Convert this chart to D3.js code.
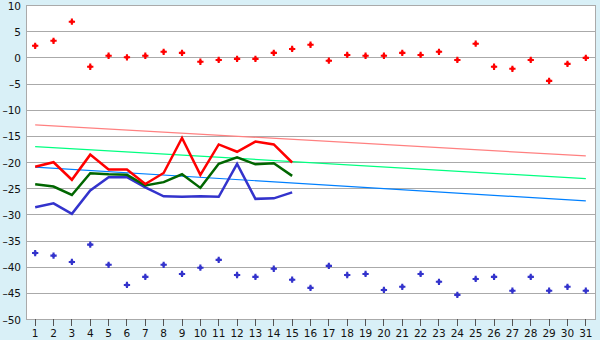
<!DOCTYPE html>
<html>
<head>
<meta charset="utf-8">
<script src="https://cdn.jsdelivr.net/npm/d3@7"></script>
<style>
  html, body { margin: 0; padding: 0; background: #d9f0f7; }
  svg { display: block; }
  text { font-family: "DejaVu Sans", Verdana, sans-serif; font-size: 10.5px; fill: #111; }
</style>
</head>
<body>
<svg id="chart" width="600" height="340"></svg>
<script>
const categories = ["1","2","3","4","5","6","7","8","9","10","11","12","13","14","15","16","17","18","19","20","21","22","23","24","25","26","27","28","29","30","31"];
const yTicks = [10, 5, 0, -5, -10, -15, -20, -25, -30, -35, -40, -45, -50];

const redPoints = [2.3, 3.25, 6.9, -1.7, 0.4, 0.1, 0.4, 1.15, 0.95, -0.75, -0.4, -0.2, -0.2, 0.95, 1.7, 2.5, -0.55, 0.55, 0.4, 0.4, 0.95, 0.55, 1.15, -0.4, 2.7, -1.7, -2.1, -0.4, -4.4, -1.15, 0];
const bluePoints = [-37.3, -37.8, -39.0, -35.7, -39.55, -43.4, -41.85, -39.55, -41.3, -40.1, -38.6, -41.5, -41.85, -40.3, -42.4, -43.95, -39.75, -41.5, -41.3, -44.35, -43.75, -41.3, -42.8, -45.3, -42.25, -41.85, -44.5, -41.85, -44.5, -43.75, -44.5];

const redLine = [-20.8, -19.95, -23.3, -18.5, -21.35, -21.35, -24.1, -22.0, -15.3, -22.35, -16.55, -17.95, -16.0, -16.55, -20.0];
const greenLine = [-24.15, -24.6, -26.2, -22.05, -22.25, -22.35, -24.4, -23.75, -22.25, -24.85, -20.25, -19.0, -20.35, -20.15, -22.55];
const blueLine = [-28.55, -27.8, -29.8, -25.35, -22.8, -22.8, -24.75, -26.45, -26.55, -26.45, -26.55, -20.25, -26.95, -26.85, -25.7];

// trend lines: values at first and last category
const trendCats = ["1", "31"];
const pinkTrend = [-12.8, -18.75];
const mintTrend = [-16.95, -23.1];
const azureTrend = [-20.9, -27.35];

const svg = d3.select("#chart");
const pLeft = 26, pRight = 595, pTop = 5.5, pBottom = 319.5;

const x = d3.scaleBand().domain(categories).range([pLeft, pRight]).paddingInner(0).paddingOuter(0);
const cx = c => x(c) + x.bandwidth() / 2;
const y = d3.scaleLinear().domain([-50, 10]).range([pBottom, pTop]);

// plot background
svg.append("rect").attr("x", pLeft).attr("y", pTop - 0.5).attr("width", pRight - pLeft).attr("height", pBottom - pTop + 0.5).attr("fill", "#ffffff");

// gridlines
svg.append("g").selectAll("line").data(yTicks).join("line")
  .attr("x1", pLeft).attr("x2", pRight)
  .attr("y1", d => Math.floor(y(d)) + 0.5).attr("y2", d => Math.floor(y(d)) + 0.5)
  .attr("stroke", "#aaaaaa").attr("stroke-width", 1).attr("shape-rendering", "crispEdges");

// left axis line and right border
svg.append("line").attr("x1", pLeft + 0.5).attr("x2", pLeft + 0.5).attr("y1", pTop - 0.5).attr("y2", pBottom + 0.5)
  .attr("stroke", "#aaaaaa").attr("shape-rendering", "crispEdges");
svg.append("line").attr("x1", pRight + 0.5).attr("x2", pRight + 0.5).attr("y1", pTop - 0.5).attr("y2", pBottom + 0.5)
  .attr("stroke", "#aaaaaa").attr("shape-rendering", "crispEdges");

// y labels
svg.append("g").selectAll("text").data(yTicks).join("text")
  .attr("x", 21).attr("y", d => y(d) + 4)
  .attr("text-anchor", "end")
  .text(d => d < 0 ? "\u2013" + Math.abs(d) : String(d));

// x axis
const xAxis = d3.axisBottom(x).tickSize(7).tickSizeOuter(0).tickPadding(4);
const gx = svg.append("g").attr("transform", `translate(0,${Math.floor(pBottom)})`).call(xAxis);
gx.select(".domain").remove();
gx.selectAll(".tick line").attr("stroke", "#555").attr("shape-rendering", "crispEdges");
gx.selectAll(".tick text").attr("font-size", 10.5).attr("font-family", "DejaVu Sans, Verdana, sans-serif").attr("fill", "#111");

// trend lines
const trendLine = d3.line().x((d, i) => cx(trendCats[i])).y(d => y(d));
[[pinkTrend, "#ff8080"], [mintTrend, "#00ff80"], [azureTrend, "#0080ff"]].forEach(([data, col]) => {
  svg.append("path").datum(data).attr("d", trendLine).attr("fill", "none")
    .attr("stroke", col).attr("stroke-width", 1.2);
});

// series lines
const seriesLine = d3.line().x((d, i) => cx(categories[i])).y(d => y(d));
[[blueLine, "#3333cc"], [greenLine, "#006600"], [redLine, "#ff0000"]].forEach(([data, col]) => {
  svg.append("path").datum(data).attr("d", seriesLine).attr("fill", "none")
    .attr("stroke", col).attr("stroke-width", 2.5).attr("stroke-linejoin", "miter");
});

// point markers (chunky plus: cross + small square)
const cross = d3.symbol().type(d3.symbolCross).size(22);
const square = d3.symbol().type(d3.symbolSquare).size(9);
[[redPoints, "#ff0000"], [bluePoints, "#3333cc"]].forEach(([data, col]) => {
  const g = svg.append("g").selectAll("g").data(data).join("g")
    .attr("transform", (d, i) => `translate(${cx(categories[i])},${y(d)})`)
    .attr("fill", col);
  g.append("path").attr("d", cross);
  g.append("path").attr("d", square);
});
</script>
</body>
</html>
